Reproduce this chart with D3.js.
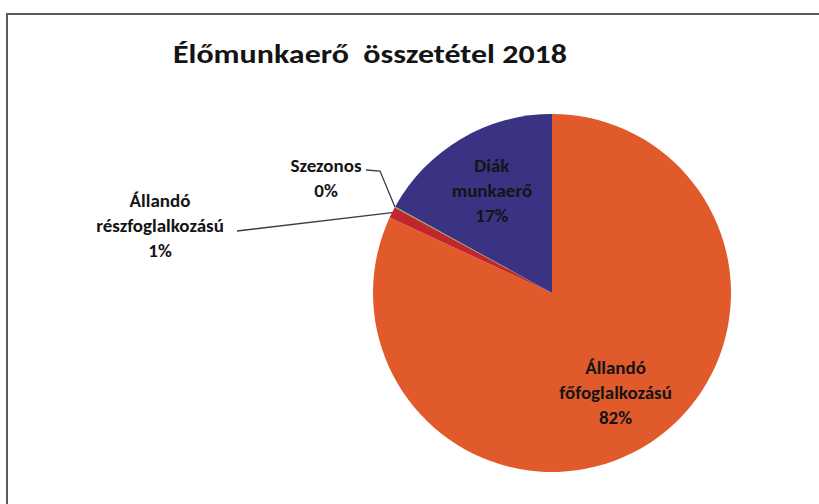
<html>
<head>
	<script src="https://cdn.jsdelivr.net/npm/d3@7"></script>
	<style type="text/css">
	body { margin: 0; background: #fff; }
	text { font-family: Calibri, Carlito, Lato, sans-serif; font-weight: bold; fill: #141414; }
	</style>
</head>
<body>
<script type="text/javascript">
	var w = 819;
	var h = 504;

	// data, clockwise from 12 o'clock
	var names = [["Állandó", "főfoglalkozású"], ["Állandó", "részfoglalkozású"], ["Szezonos"], ["Diák", "munkaerő"]];
	var values = [82, 1, 0.1, 17];
	var pctLabels = ["82%", "1%", "0%", "17%"];
	var colors = ["#e15a2c", "#c0262c", "#8aa040", "#3a3283"];
	var title = "Élőmunkaerő\u00a0 összetétel 2018";

	var cx = 552, cy = 293, r = 179;

	var svg = d3.select("body").append("svg")
		.attr("width", w)
		.attr("height", h);

	// frame (right and bottom edges run off the picture)
	svg.append("rect")
		.attr("x", 7).attr("y", 14)
		.attr("width", 830).attr("height", 520)
		.attr("fill", "none")
		.attr("stroke", "#5a5a5a")
		.attr("stroke-width", 2);

	svg.append("text")
		.text(title)
		.attr("x", 173)
		.attr("y", 63)
		.attr("font-size", 27)
		.attr("textLength", 394)
		.attr("lengthAdjust", "spacingAndGlyphs");

	var pie = d3.pie().sort(null).value(function(d) { return d; });
	var arcs = pie(values);
	var arc = d3.arc().innerRadius(0).outerRadius(r);
	var labelArc = d3.arc().innerRadius(r * 0.66).outerRadius(r * 0.66);

	var g = svg.append("g").attr("transform", "translate(" + cx + "," + cy + ")");
	g.selectAll("path")
		.data(arcs)
		.enter().append("path")
		.attr("d", arc)
		.attr("fill", function(d, i) { return colors[i]; });

	var lineH = 25;
	function drawLabel(lines, x, y) {
		var t = svg.append("text")
			.attr("text-anchor", "middle")
			.attr("font-size", 19);
		lines.forEach(function(s, k) {
			t.append("tspan").text(s).attr("x", x).attr("y", y + k * lineH);
		});
		return t;
	}

	// inside labels
	[0, 3].forEach(function(i) {
		var c = labelArc.centroid(arcs[i]);
		var lines = names[i].concat([pctLabels[i]]);
		drawLabel(lines, cx + c[0], cy + c[1] - (lines.length - 1) * lineH / 2 + 6);
	});

	// outside labels with leader lines: label centre, line start, elbow
	var outside = [
		{ i: 1, lx: 160, ly: 207, sx: 237, sy: 231, ex: null },
		{ i: 2, lx: 326, ly: 172, sx: 366, sy: 170, ex: 380 }
	];
	outside.forEach(function(o) {
		var a = arcs[o.i];
		var mid = (a.startAngle + a.endAngle) / 2;
		var px = cx + Math.sin(mid) * r, py = cy - Math.cos(mid) * r;
		var pts = [[o.sx, o.sy]];
		if (o.ex != null) pts.push([o.ex, o.sy + 1]);
		pts.push([px, py]);
		svg.append("path")
			.attr("d", d3.line()(pts))
			.attr("fill", "none")
			.attr("stroke", "#3c3c3c")
			.attr("stroke-width", 1.3);
		drawLabel(names[o.i].concat([pctLabels[o.i]]), o.lx, o.ly);
	});
</script>
</body>
</html>
